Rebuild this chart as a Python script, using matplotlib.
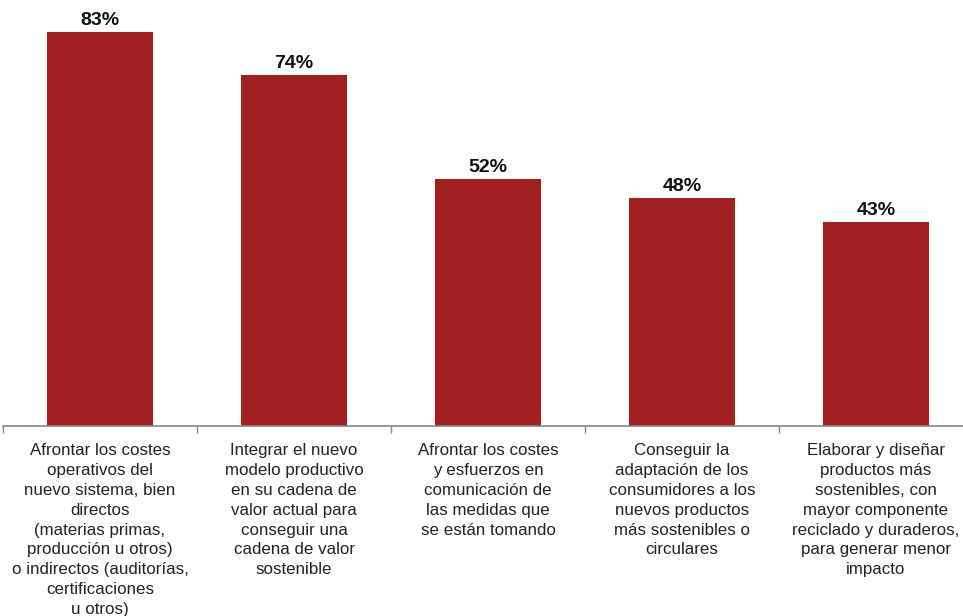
import matplotlib.pyplot as plt
import numpy as np

plt.rcParams["font.family"] = ["Liberation Sans", "DejaVu Sans"]

categories = [
    "Afrontar los costes\noperativos del\nnuevo sistema, bien\ndirectos\n(materias primas,\nproducción u otros)\no indirectos (auditorías,\ncertificaciones\nu otros)",
    "Integrar el nuevo\nmodelo productivo\nen su cadena de\nvalor actual para\nconseguir una\ncadena de valor\nsostenible",
    "Afrontar los costes\ny esfuerzos en\ncomunicación de\nlas medidas que\nse están tomando",
    "Conseguir la\nadaptación de los\nconsumidores a los\nnuevos productos\nmás sostenibles o\ncirculares",
    "Elaborar y diseñar\nproductos más\nsostenibles, con\nmayor componente\nreciclado y duraderos,\npara generar menor\nimpacto",
]
values = [83, 74, 52, 48, 43]

BAR_COLOR = "#A21F22"

fig = plt.figure(figsize=(9.63, 6.16), dpi=100)
# axes runs slightly past the right edge of the canvas
ax = fig.add_axes([3 / 963, 190 / 616, 970 / 963, 426 / 616])

x = np.arange(len(values))
ax.bar(x, values, width=0.55, color=BAR_COLOR, zorder=2)
for xi, v in zip(x, values):
    ax.annotate(f"{v}%", (xi, v), xytext=(0, 2), textcoords="offset points",
                ha="center", va="bottom", fontsize=14, fontweight="bold", color="#111111")

ax.set_xlim(-0.5, len(values) - 0.5)
ax.set_ylim(0, 89.7)

ax.set_xticks(x, categories, fontsize=12.2, color="#222222", linespacing=1.4, va="top")
ax.tick_params(axis="x", which="major", length=0, pad=12.5)
ax.set_xticks(np.arange(len(values) + 1) - 0.5, minor=True)
ax.tick_params(axis="x", which="minor", length=5, width=1, color="#888888", direction="out")
ax.set_yticks([])

for side in ("top", "right", "left"):
    ax.spines[side].set_visible(False)
ax.spines["bottom"].set_color("#888888")
ax.spines["bottom"].set_linewidth(1.2)

fig.savefig("out.png", dpi=100)
